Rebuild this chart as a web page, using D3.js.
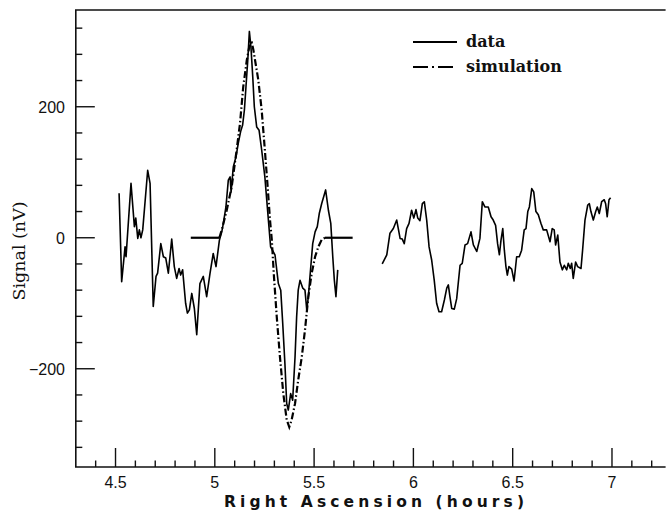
<!DOCTYPE html>
<html><head><meta charset="utf-8">
<script src="https://cdn.jsdelivr.net/npm/d3@7"></script>
<style>
html,body{margin:0;padding:0;background:#fff;}
svg{display:block;}
</style></head>
<body>
<script>
// ---- data (RA in hours, signal in nV) ----
const dataSeg1RA = [4.518,4.531,4.548,4.553,4.578,4.595,4.602,4.612,4.620,4.628,4.637,4.662,4.674,4.690,4.704,4.712,4.728,4.741,4.753,4.766,4.783,4.796,4.808,4.820,4.828,4.838,4.853,4.862,4.872,4.884,4.897,4.909,4.925,4.942,4.959,4.976,4.992,5.006,5.023,5.035,5.043,5.056,5.068,5.077,5.082,5.093,5.107,5.118,5.130,5.140,5.149,5.157,5.166,5.174,5.182,5.191,5.199,5.211,5.223,5.236,5.252,5.269,5.281,5.303,5.320,5.332,5.342,5.353,5.362,5.370,5.382,5.392,5.404,5.412,5.420,5.429,5.443,5.454,5.463,5.471,5.479,5.493,5.505,5.516,5.526,5.538,5.558,5.572,5.584,5.594,5.602,5.610,5.619];
const dataSeg1Signal = [68,-67,-14,-29,83,17,30,-1,12,0,12,103,83,-105,-59,-54,-9,-29,-31,-54,-2,-44,-62,-47,-57,-49,-100,-115,-110,-85,-108,-148,-70,-59,-90,-54,-24,-44,-4,9,22,47,88,93,70,108,124,144,162,172,195,231,271,315,291,246,200,169,164,134,93,30,-14,-26,-70,-80,-131,-192,-253,-263,-238,-248,-182,-121,-80,-65,-77,-80,-110,-90,-60,-9,9,17,37,52,73,42,22,-29,-65,-90,-49];

const dataSeg2RA = [5.843,5.866,5.882,5.899,5.916,5.933,5.944,5.954,5.966,5.978,5.991,6.002,6.013,6.022,6.033,6.045,6.055,6.067,6.079,6.092,6.105,6.117,6.129,6.142,6.156,6.168,6.176,6.184,6.193,6.206,6.218,6.235,6.246,6.260,6.273,6.290,6.302,6.319,6.335,6.347,6.360,6.377,6.391,6.402,6.414,6.424,6.433,6.441,6.450,6.458,6.466,6.473,6.481,6.495,6.507,6.520,6.533,6.545,6.558,6.567,6.576,6.584,6.596,6.606,6.617,6.629,6.642,6.654,6.671,6.688,6.699,6.709,6.716,6.727,6.738,6.750,6.760,6.772,6.780,6.790,6.797,6.805,6.817,6.827,6.844,6.852,6.864,6.878,6.886,6.894,6.906,6.918,6.926,6.936,6.948,6.961,6.968,6.976,6.985,6.993];
const dataSeg2Signal = [-40,-26,7,14,27,-1,-2,-9,14,22,42,30,43,30,26,52,55,27,-14,-34,-65,-100,-113,-113,-95,-77,-72,-90,-108,-109,-93,-42,-39,-11,-9,9,-11,-21,-1,55,47,47,32,27,19,-9,-26,-4,14,-19,-44,-57,-44,-48,-66,-29,-29,-19,12,14,40,47,75,70,40,35,22,12,12,-6,14,12,-11,4,-37,-49,-42,-49,-39,-47,-39,-62,-37,-44,-47,-19,27,50,52,40,27,40,47,37,55,58,52,32,58,61];

const simRA = [4.879,5.023,5.035,5.060,5.085,5.110,5.127,5.143,5.161,5.177,5.186,5.194,5.219,5.236,5.252,5.266,5.278,5.287,5.298,5.312,5.328,5.345,5.362,5.375,5.387,5.404,5.420,5.438,5.454,5.471,5.488,5.505,5.521,5.538,5.555,5.694];
const simSignal = [0,0,12,42,78,134,175,230,271,297,298,287,241,195,134,78,27,-3,-60,-121,-182,-238,-278,-289,-278,-253,-217,-182,-141,-90,-54,-29,-14,-3,0,0];

const xMajorTicks = [4.5,5,5.5,6,6.5,7];
const xMinorTicks = [4.4,4.6,4.7,4.8,4.9,5.1,5.2,5.3,5.4,5.6,5.7,5.8,5.9,6.1,6.2,6.3,6.4,6.6,6.7,6.8,6.9,7.1,7.2];
const yMajorTicks = [-200,0,200];
const yMinorTicks = [-320,-280,-240,-160,-120,-80,-40,40,80,120,160,240,280,320];
const xTickLabels = ["4.5","5","5.5","6","6.5","7"];
const yTickLabels = ["\u2212200","0","200"];
const legendLabels = ["data","simulation"];
const xTitle = "Right Ascension (hours)";
const yTitle = "Signal (nV)";

// ---- drawing ----
const W = 667, H = 514;
const svg = d3.select("body").append("svg").attr("width", W).attr("height", H);

const x = d3.scaleLinear().domain([4.3, 7.27]).range([75.8, 665.6]);
const y = d3.scaleLinear().domain([-350, 350]).range([467, 8.5]);

const zip = (a, b) => a.map((v, i) => [v, b[i]]);
const line = d3.line().x(d => x(d[0])).y(d => y(d[1]));

// frame (left, top, bottom; no right side)
const x0 = x.range()[0], x1 = x.range()[1], yb = y.range()[0], yt = 10;
svg.append("path")
  .attr("d", `M${x1},${yt}H${x0}V${yb}H${x1}`)
  .attr("fill", "none").attr("stroke", "#111").attr("stroke-width", 1.6);

// x ticks (inward)
const gx = svg.append("g").attr("stroke", "#111").attr("stroke-width", 1.4);
gx.selectAll("line.maj").data(xMajorTicks).join("line")
  .attr("x1", d => x(d)).attr("x2", d => x(d)).attr("y1", yb).attr("y2", yb - 19);
gx.selectAll("line.min").data(xMinorTicks).join("line")
  .attr("x1", d => x(d)).attr("x2", d => x(d)).attr("y1", yb).attr("y2", yb - 6.5);
// y ticks (inward)
const gy = svg.append("g").attr("stroke", "#111").attr("stroke-width", 1.4);
gy.selectAll("line.maj").data(yMajorTicks).join("line")
  .attr("y1", d => y(d)).attr("y2", d => y(d)).attr("x1", x0).attr("x2", x0 + 19);
gy.selectAll("line.min").data(yMinorTicks).join("line")
  .attr("y1", d => y(d)).attr("y2", d => y(d)).attr("x1", x0).attr("x2", x0 + 6.5);

// tick labels
svg.append("g").selectAll("text").data(xMajorTicks).join("text")
  .attr("x", d => x(d)).attr("y", 487.5)
  .attr("text-anchor", "middle")
  .attr("font-family", "'Liberation Sans', Arial, sans-serif")
  .attr("font-size", 16).attr("fill", "#111")
  .text((d, i) => xTickLabels[i]);
svg.append("g").selectAll("text").data(yMajorTicks).join("text")
  .attr("x", 65).attr("y", d => y(d) + 6)
  .attr("text-anchor", "end")
  .attr("font-family", "'Liberation Sans', Arial, sans-serif")
  .attr("font-size", 16).attr("fill", "#111")
  .text((d, i) => yTickLabels[i]);

// axis titles
svg.append("text")
  .attr("x", 374).attr("y", 506.5)
  .attr("text-anchor", "middle")
  .attr("font-family", "'DejaVu Sans', sans-serif")
  .attr("font-weight", "bold")
  .attr("font-size", 15.5).attr("fill", "#111")
  .attr("textLength", 300).attr("lengthAdjust", "spacing")
  .text(xTitle);
svg.append("text")
  .attr("transform", "translate(25,251) rotate(-90)")
  .attr("text-anchor", "middle")
  .attr("font-family", "'DejaVu Serif', serif")
  .attr("font-size", 17.5).attr("fill", "#111")
  .text(yTitle);

// data lines
[zip(dataSeg1RA, dataSeg1Signal), zip(dataSeg2RA, dataSeg2Signal)].forEach(seg => {
  svg.append("path").attr("d", line(seg))
    .attr("fill", "none").attr("stroke", "#000").attr("stroke-width", 1.6)
    .attr("stroke-linejoin", "round");
});

// simulation: flat (zero) stretches look solid, the profile is dash-dot
const sim = zip(simRA, simSignal);
const firstNZ = simSignal.findIndex(v => v !== 0);
let lastNZ = simSignal.length - 1;
while (simSignal[lastNZ] === 0) lastNZ--;
const simFlatL = sim.slice(0, firstNZ);
const simCurve = sim.slice(firstNZ - 1, lastNZ + 2);
const simFlatR = sim.slice(lastNZ + 1);
[simFlatL, simFlatR].forEach(seg => {
  svg.append("path").attr("d", line(seg))
    .attr("fill", "none").attr("stroke", "#000").attr("stroke-width", 2.2);
});
svg.append("path").attr("d", line(simCurve))
  .attr("fill", "none").attr("stroke", "#000").attr("stroke-width", 2.2)
  .attr("stroke-dasharray", "7,2.5,1.5,2.5");

// legend
const lg = svg.append("g");
lg.append("line").attr("x1", 413).attr("x2", 457).attr("y1", 42).attr("y2", 42)
  .attr("stroke", "#000").attr("stroke-width", 2);
lg.append("line").attr("x1", 413).attr("x2", 457).attr("y1", 67).attr("y2", 67)
  .attr("stroke", "#000").attr("stroke-width", 2).attr("stroke-dasharray", "15,4,2,4");
lg.selectAll("text").data(legendLabels).join("text")
  .attr("x", 466).attr("y", (d, i) => 47 + i * 25)
  .attr("font-family", "'DejaVu Serif', serif")
  .attr("font-weight", "bold")
  .attr("font-size", 16).attr("fill", "#111")
  .text(d => d);
</script>
</body></html>
